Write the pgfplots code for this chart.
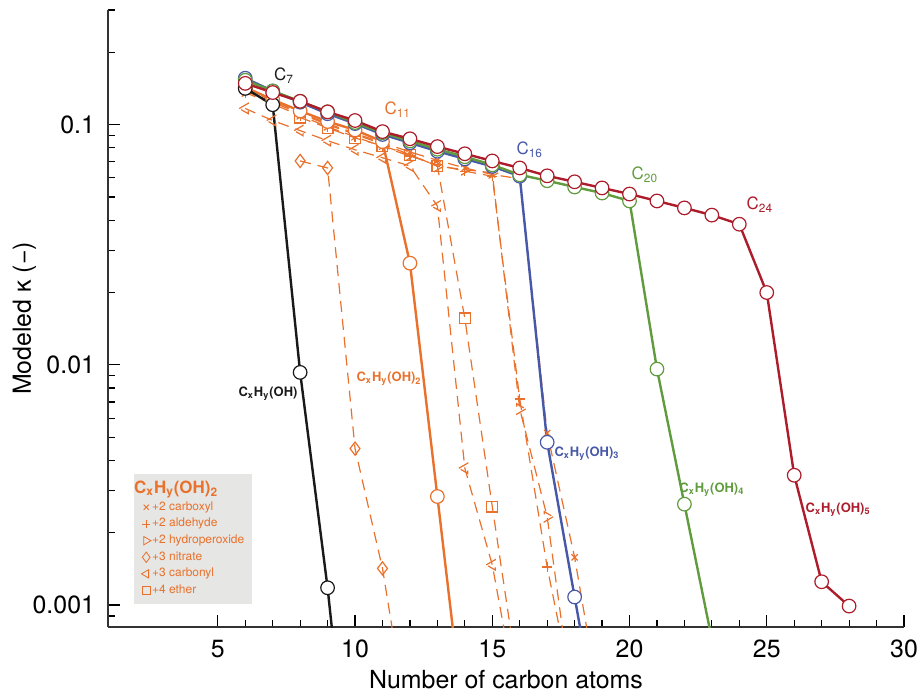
\documentclass[border=0pt]{standalone}
\usepackage{pgfplots}
\pgfplotsset{compat=1.18}
\usepackage{fontspec}
\setmainfont{TeX Gyre Heros}
\setsansfont{TeX Gyre Heros}

\definecolor{cblk}{RGB}{25,25,25}
\definecolor{cor}{RGB}{233,113,44}
\definecolor{cblu}{RGB}{72,88,168}
\definecolor{cgrn}{RGB}{96,156,62}
\definecolor{cred}{RGB}{172,28,42}
\definecolor{lgray}{RGB}{230,230,228}

\pgfplotsset{
  solidser/.style={line width=1.2bp, mark=*, mark size=3.4bp,
    mark options={fill=white, line width=0.6bp}},
  dashser/.style={cor, line width=0.6bp, dash pattern=on 5.5bp off 3.5bp,
    mark options={solid, line width=0.6bp}},
}

\begin{document}
\begin{tikzpicture}
\begin{axis}[
  at={(0,0)}, anchor=south west,
  scale only axis, width=398bp, height=308.5bp,
  xmin=1, xmax=30, ymode=log, ymin=0.00081, ymax=0.3,
  axis x line*=bottom, axis y line*=left,
  axis line style={line width=0.6bp, black!80},
  xtick={5,10,15,20,25,30}, minor x tick num=4,
  ytick={0.001,0.01,0.1}, yticklabels={0.001,0.01,0.1},
  minor ytick={0.0009,0.002,0.003,0.004,0.005,0.006,0.007,0.008,0.009,
    0.02,0.03,0.04,0.05,0.06,0.07,0.08,0.09,0.2,0.3},
  tick align=inside, major tick length=6bp, minor tick length=3.5bp,
  tick style={line width=0.6bp, black},
  /pgf/number format/assume math mode=true,
  tick label style={font=\fontsize{12.5}{14}\selectfont},
  yticklabel style={xshift=-3bp},
  xticklabel style={yshift=-3bp},
  xlabel={Number of carbon atoms},
  ylabel={Modeled κ (−)},
  label style={font=\fontsize{12.5}{14}\selectfont},
  xlabel style={at={(axis description cs:0.5,0)}, anchor=base, yshift=-30.5bp},
  ylabel style={at={(axis description cs:0,0.5)}, rotate=0, anchor=base, yshift=38.5bp},
  legend style={at={(0.0327,0.0373)}, anchor=south west, fill=lgray, draw=none,
    font=\fontsize{6}{7}\selectfont, text=cor, inner xsep=3.5bp, inner ysep=3bp,
    row sep=1.3bp, nodes={inner sep=0.6bp}},
  legend cell align=left,
  legend image code/.code={\draw[#1] plot coordinates {(0bp,0bp)};},
]
% legend
\addlegendimage{empty legend}
\addlegendentry{\hspace*{-9bp}{\fontsize{8.5}{10}\selectfont\bfseries C\textsubscript{x}H\textsubscript{y}(OH)\textsubscript{2}\rule[-3.5bp]{0pt}{1bp}}}
\addlegendimage{only marks, cor, mark=x, mark size=1.8bp}
\addlegendentry{+2 carboxyl}
\addlegendimage{only marks, cor, mark=+, mark size=2.1bp}
\addlegendentry{+2 aldehyde}
\addlegendimage{only marks, cor, mark=triangle, mark size=2.4bp, mark options={rotate=-90}}
\addlegendentry{+2 hydroperoxide}
\addlegendimage{only marks, cor, mark=diamond, mark size=2.6bp}
\addlegendentry{+3 nitrate}
\addlegendimage{only marks, cor, mark=triangle, mark size=2.4bp, mark options={rotate=90}}
\addlegendentry{+3 carbonyl}
\addlegendimage{only marks, cor, mark=square, mark size=2bp}
\addlegendentry{+4 ether}

% C_xH_y(OH)_2 functionalised series (dashed)
\addplot[dashser, mark=x, mark size=2.2bp, forget plot] coordinates {
 (6,0.140) (7,0.126) (8,0.112) (9,0.101) (10,0.092) (11,0.084) (12,0.077)
 (13,0.071) (14,0.066) (15,0.062) (16,0.0595) (17,0.0052) (18,0.00158) (19,0.00034)};
\addplot[dashser, mark=+, mark size=2.5bp, forget plot] coordinates {
 (6,0.136) (7,0.122) (8,0.109) (9,0.098) (10,0.089) (11,0.081) (12,0.074)
 (13,0.068) (14,0.064) (15,0.061) (16,0.0072) (17,0.00144) (18,0.00039)};
\addplot[dashser, mark=triangle, mark size=3bp, mark options={rotate=-90}, forget plot] coordinates {
 (6,0.138) (7,0.124) (8,0.111) (9,0.100) (10,0.091) (11,0.083) (12,0.075)
 (13,0.067) (14,0.065) (15,0.063) (16,0.00655) (17,0.00233) (18,0.00034)};
\addplot[dashser, mark=diamond, mark size=3.3bp, forget plot] coordinates {
 (8,0.0706) (9,0.066) (10,0.00448) (11,0.00142) (12,0.00028)};
\addplot[dashser, mark=triangle, mark size=3bp, mark options={rotate=90}, forget plot] coordinates {
 (6,0.1167) (7,0.104) (8,0.0944) (9,0.0857) (10,0.0786) (11,0.0728) (12,0.0673)
 (13,0.0458) (14,0.00371) (15,0.00147) (16,0.00035)};
\addplot[dashser, mark=square, mark size=2.7bp, forget plot] coordinates {
 (8,0.107) (9,0.097) (10,0.088) (11,0.0816) (12,0.0748) (13,0.0673)
 (14,0.0156) (15,0.00257) (16,0.00044)};

% main series
\addplot[solidser, cor, forget plot] coordinates {
 (6,0.143) (7,0.127) (8,0.114) (9,0.103) (10,0.095) (11,0.085)
 (12,0.0265) (13,0.00283) (14,0.0003)};
\addplot[solidser, cblk, forget plot] coordinates {
 (6,0.1415) (7,0.121) (8,0.0093) (9,0.00118) (10,0.0001)};
\addplot[solidser, cblu, forget plot] coordinates {
 (6,0.156) (7,0.138) (8,0.124) (9,0.111) (10,0.101) (11,0.091) (12,0.084)
 (13,0.0775) (14,0.072) (15,0.067) (16,0.0610) (17,0.00476) (18,0.00108) (19,0.00025)};
\addplot[solidser, cgrn, forget plot] coordinates {
 (6,0.153) (7,0.138) (8,0.125) (9,0.113) (10,0.102) (11,0.0925) (12,0.0855)
 (13,0.079) (14,0.0735) (15,0.068) (16,0.0618) (17,0.0584) (18,0.0550)
 (19,0.0519) (20,0.0481) (21,0.0096) (22,0.00263) (23,0.00072)};
\addplot[solidser, cred, forget plot] coordinates {
 (6,0.1485) (7,0.136) (8,0.125) (9,0.113) (10,0.104) (11,0.0935) (12,0.0873)
 (13,0.081) (14,0.0756) (15,0.0706) (16,0.066) (17,0.0612) (18,0.0578)
 (19,0.0545) (20,0.0514) (21,0.0481) (22,0.045) (23,0.042) (24,0.0385)
 (25,0.020) (26,0.00347) (27,0.00125) (28,0.00099)};

% labels
\node[cblk, font=\fontsize{8.5}{10}\selectfont] at (axis cs:7.41,0.160) {C\textsubscript{7}};
\node[cor, font=\fontsize{8.5}{10}\selectfont] at (axis cs:11.56,0.1155) {C\textsubscript{11}};
\node[cblu, font=\fontsize{8.5}{10}\selectfont] at (axis cs:16.37,0.0786) {C\textsubscript{16}};
\node[cgrn, font=\fontsize{8.5}{10}\selectfont] at (axis cs:20.56,0.0618) {C\textsubscript{20}};
\node[cred, font=\fontsize{8.5}{10}\selectfont] at (axis cs:24.75,0.0463) {C\textsubscript{24}};
\node[cblk, font=\fontsize{6.5}{8}\selectfont\bfseries] at (axis cs:6.83,0.00757) {C\textsubscript{x}H\textsubscript{y}(OH)};
\node[cor, font=\fontsize{6.5}{8}\selectfont\bfseries] at (axis cs:11.24,0.00873) {C\textsubscript{x}H\textsubscript{y}(OH)\textsubscript{2}};
\node[cblu, font=\fontsize{6.5}{8}\selectfont\bfseries] at (axis cs:18.45,0.00428) {C\textsubscript{x}H\textsubscript{y}(OH)\textsubscript{3}};
\node[cgrn, font=\fontsize{6.5}{8}\selectfont\bfseries] at (axis cs:23.0,0.00303) {C\textsubscript{x}H\textsubscript{y}(OH)\textsubscript{4}};
\node[cred, font=\fontsize{6.5}{8}\selectfont\bfseries] at (axis cs:27.6,0.00249) {C\textsubscript{x}H\textsubscript{y}(OH)\textsubscript{5}};
\end{axis}
\pgfresetboundingbox
\path (-54bp,-32.5bp) rectangle (404.5bp,313.5bp);
\end{tikzpicture}
\end{document}
